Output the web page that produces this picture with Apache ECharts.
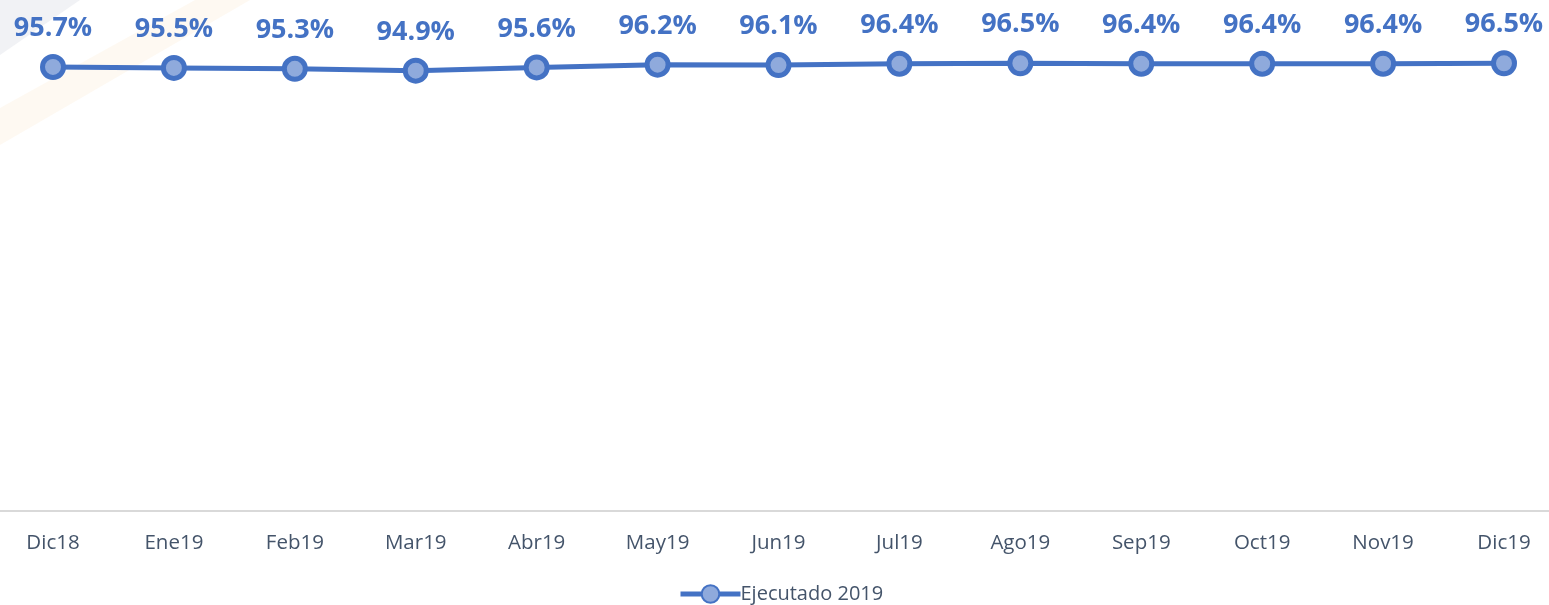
<!DOCTYPE html>
<html>
<head>
<meta charset="utf-8">
<script src="https://cdn.jsdelivr.net/npm/echarts@6/dist/echarts.min.js"></script>
<style>
  html, body { margin: 0; padding: 0; background: #fff; }
  #chart { width: 1549px; height: 605px; }
</style>
</head>
<body>
<div id="chart"></div>
<script>
// meses
var months = ['Dic18', 'Ene19', 'Feb19', 'Mar19', 'Abr19', 'May19', 'Jun19',
  'Jul19', 'Ago19', 'Sep19', 'Oct19', 'Nov19', 'Dic19'];
// % ejecutado
var ejecutado2019 = [95.7, 95.5, 95.3, 94.9, 95.6, 96.2, 96.1, 96.4, 96.5, 96.4, 96.4, 96.4, 96.5];

var chart = echarts.init(document.getElementById('chart'));
var font = '"Open Sans", Lato, sans-serif';

chart.setOption({
  animation: false,
  // marca de agua tenue arriba a la izquierda
  graphic: [
    { type: 'polygon', silent: true, z: -10,
      shape: { points: [[0, 0], [80, 0], [0, 55]] },
      style: { fill: 'rgba(200,205,215,0.25)' } },
    { type: 'polygon', silent: true, z: -10,
      shape: { points: [[195, 0], [250, 0], [0, 145], [0, 108]] },
      style: { fill: 'rgba(250,210,160,0.14)' } }
  ],
  grid: [
    { left: 53, right: 45, top: 47, bottom: 94 },
    { left: 0, right: 0, top: 47, bottom: 94 }
  ],
  legend: {
    bottom: 1,
    left: 678,
    padding: 0,
    itemWidth: 60,
    itemHeight: 22,
    itemGap: 0,
    lineStyle: { width: 5 },
    textStyle: { fontFamily: font, fontSize: 20, color: '#44546A', padding: [0, 0, 0, -5] },
    data: ['Ejecutado 2019']
  },
  xAxis: [{
    type: 'category',
    data: months,
    boundaryGap: false,
    axisLine: { show: false },
    axisTick: { show: false },
    axisLabel: { fontFamily: font, fontSize: 20.5, color: '#44546A', margin: 22 }
  }, {
    type: 'category',
    gridIndex: 1,
    data: [''],
    axisLine: { lineStyle: { color: '#D9D9D9', width: 2 } },
    axisTick: { show: false },
    axisLabel: { show: false }
  }],
  yAxis: [{
    type: 'value',
    min: 0,
    max: 100,
    show: false,
    splitLine: { show: false }
  }, {
    type: 'value',
    gridIndex: 1,
    show: false,
    splitLine: { show: false }
  }],
  series: [{
    name: 'Ejecutado 2019',
    type: 'line',
    data: ejecutado2019,
    symbol: 'circle',
    symbolSize: 21,
    lineStyle: { color: '#4472C4', width: 5 },
    itemStyle: { color: '#8FAADC', borderColor: '#4472C4', borderWidth: 5 },
    label: {
      show: true,
      position: 'top',
      distance: 12,
      fontFamily: font,
      fontSize: 27,
      fontWeight: 'bold',
      color: '#4472C4',
      formatter: function (p) { return p.value.toFixed(1) + '%'; }
    }
  }]
});
</script>
</body>
</html>
